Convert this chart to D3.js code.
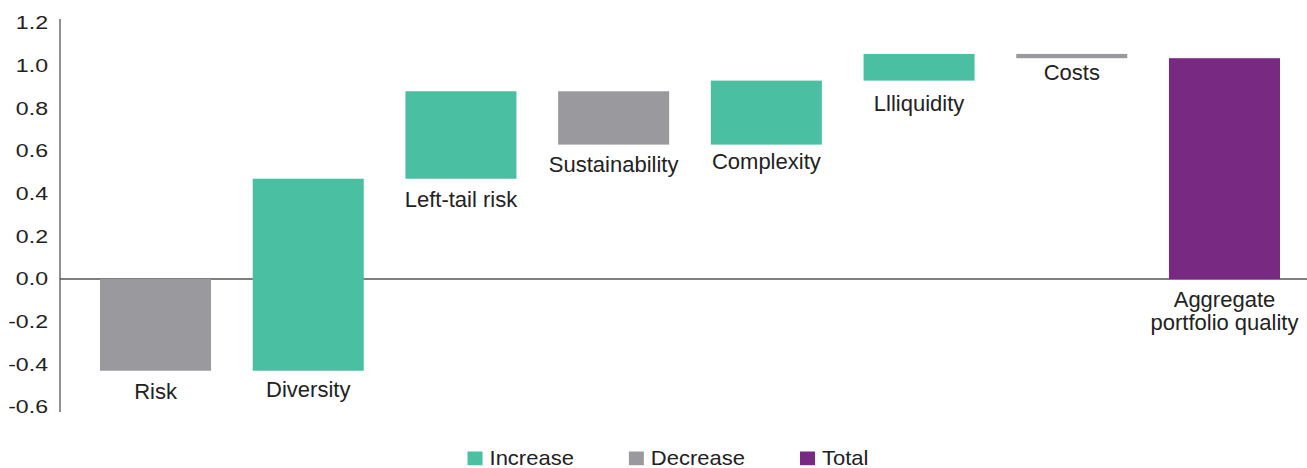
<!DOCTYPE html>
<html>
<head>
<meta charset="utf-8">
<script src="https://cdn.jsdelivr.net/npm/d3@7"></script>
<style>
  html, body { margin: 0; padding: 0; background: #fff; }
  svg { display: block; font-family: "Liberation Sans", Arial, Helvetica, sans-serif; }
</style>
</head>
<body>
<div id="chart"></div>
<script>
// waterfall data
const categories = ["Risk", "Diversity", "Left-tail risk", "Sustainability", "Complexity", "Llliquidity", "Costs", "Aggregate|portfolio quality"];
const deltas = [-0.43, 0.90, 0.41, -0.25, 0.30, 0.125, -0.02, null]; // null = total
const kinds = ["decrease", "increase", "increase", "decrease", "increase", "increase", "decrease", "total"];
const tickValues = [-0.6, -0.4, -0.2, 0.0, 0.2, 0.4, 0.6, 0.8, 1.0, 1.2];
const legendKeys = ["increase", "decrease", "total"];
const legendLabels = ["Increase", "Decrease", "Total"];

const colors = { increase: "#4abfa1", decrease: "#9a9a9e", total: "#782a82" };
const W = 1307, H = 468;
const axisX = 60;
// label baseline distance below each bar (px), as placed in the original
const labelGap = [28, 26, 28, 27.5, 24.5, 30, 22, 28];

// running totals -> start / end of each bar
let run = 0;
const bars = categories.map((c, i) => {
  let y0, y1;
  if (kinds[i] === "total") { y0 = 0; y1 = run; }
  else { y0 = run; run += deltas[i]; y1 = run; }
  return { label: c, kind: kinds[i], y0: y0, y1: y1, gap: labelGap[i] };
});

const svg = d3.select("#chart").append("svg")
  .attr("width", W).attr("height", H);

const x = d3.scaleBand()
  .domain(categories)
  .range([axisX, 1320])
  .paddingInner(0.273)
  .paddingOuter(0.262);

const y = d3.scaleLinear()
  .domain([-0.6, 1.2])
  .range([407, 23]);

// y axis
const yAxis = svg.append("g")
  .attr("transform", `translate(${axisX},0)`)
  .call(d3.axisLeft(y).tickValues(tickValues).tickSize(0).tickFormat(d => d.toFixed(1)));
yAxis.select(".domain").remove();
yAxis.selectAll("text")
  .attr("x", -12 / 1.25)
  .attr("transform", "scale(1.25,1)")
  .style("font-size", "18.5px")
  .style("font-family", "'Liberation Sans', Arial, sans-serif")
  .attr("fill", "#222");

svg.append("line")
  .attr("x1", axisX).attr("x2", axisX)
  .attr("y1", y(1.2) - 4).attr("y2", y(-0.6) + 5)
  .attr("stroke", "#555").attr("stroke-width", 1.3);

// zero line
svg.append("line")
  .attr("x1", axisX).attr("x2", W)
  .attr("y1", y(0)).attr("y2", y(0))
  .attr("stroke", "#555").attr("stroke-width", 1.3);

// bars
svg.append("g").selectAll("rect")
  .data(bars)
  .join("rect")
    .attr("x", d => x(d.label))
    .attr("width", x.bandwidth())
    .attr("y", d => y(Math.max(d.y0, d.y1)))
    .attr("height", d => Math.abs(y(d.y0) - y(d.y1)))
    .attr("fill", d => colors[d.kind]);

// category labels under each bar (one text per line)
const lblG = svg.append("g");
bars.forEach(d => {
  d.label.split("|").forEach((p, k) => {
    lblG.append("text")
      .attr("text-anchor", "middle")
      .attr("fill", "#222")
      .style("font-size", "22px")
      .attr("x", x(d.label) + x.bandwidth() / 2)
      .attr("y", y(Math.min(d.y0, d.y1)) + d.gap + k * 22.5)
      .text(p);
  });
});

// legend
const legend = svg.append("g");
let lx = 0;
legendKeys.forEach((k, i) => {
  const g = legend.append("g").attr("transform", `translate(${lx},0)`);
  g.append("rect")
    .attr("x", 0).attr("y", -13.5)
    .attr("width", 15).attr("height", 13.7)
    .attr("fill", colors[k]);
  const t = g.append("text")
    .attr("x", 22 / 1.1)
    .attr("transform", "scale(1.1,1)")
    .attr("fill", "#222")
    .style("font-size", "20px")
    .text(legendLabels[i]);
  const w = t.node().getComputedTextLength() * 1.1;
  lx += 22 + w + 55;
});
const legW = lx - 55;
legend.attr("transform", `translate(${668 - legW / 2},465)`);
</script>
</body>
</html>
